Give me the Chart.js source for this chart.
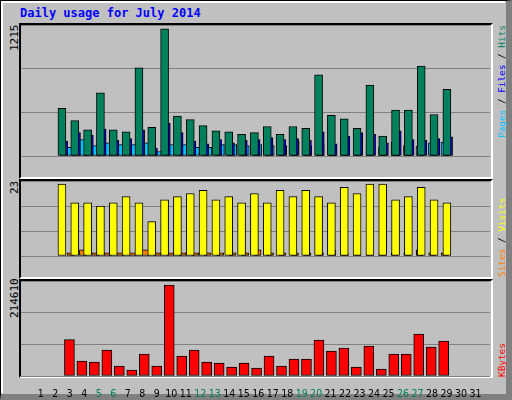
<!DOCTYPE html>
<html><head><meta charset="utf-8">
<script src="https://cdn.jsdelivr.net/npm/chart.js@4"></script>
<style>
body{margin:0;width:512px;height:400px;background:#c0c0c0;position:relative;overflow:hidden;font-family:"DejaVu Sans Mono",monospace}
#frame{position:absolute;left:0;top:0;width:505px;height:393px;border:1px solid #000;border-right:6px solid #808080;border-bottom:6px solid #808080;box-sizing:content-box}
#inner{position:absolute;left:1px;top:1px;width:504px;height:392px;border-left:2px solid #fff;border-top:2px solid #fff;box-sizing:border-box}
.panel{position:absolute;border-top:2px solid #000;border-left:2px solid #000;border-right:2px solid #fff;border-bottom:2px solid #fff;box-sizing:border-box}
canvas{position:absolute}
.rot{position:absolute;transform:rotate(-90deg);transform-origin:left top;white-space:nowrap;font-size:9.4px;line-height:11px}
#title{position:absolute;left:20px;top:6px;color:#0000ff;font-weight:bold;font-size:12px}
</style></head><body>
<div id="frame"></div><div id="inner"></div>
<div id="title">Daily usage for July 2014</div>
<div class="panel" style="left:19px;top:23px;width:474px;height:156px"></div>
<div class="panel" style="left:19px;top:179px;width:474px;height:100px"></div>
<div class="panel" style="left:19px;top:279px;width:474px;height:99px"></div>
<div class="rot" style="left:9px;top:51px;font-size:11px">1215</div>
<div class="rot" style="left:9px;top:194px;font-size:11px">23</div>
<div class="rot" style="left:9px;top:318px;font-size:11px">214610</div>
<div class="rot" style="left:496px;top:138px"><span style="color:#00c0ff">Pages</span> / <span style="color:#0000ff">Files</span> / <span style="color:#00805c">Hits</span></div>
<div class="rot" style="left:496px;top:277px"><span style="color:#ff8000">Sites</span> / <span style="color:#ffff00">Visits</span></div>
<div class="rot" style="left:496px;top:377px"><span style="color:#ff0000">KBytes</span></div>
<canvas id="c1" style="left:21px;top:25px;width:469px;height:152px"></canvas>
<canvas id="c2" style="left:21px;top:181px;width:469px;height:96px"></canvas>
<canvas id="c3" style="left:21px;top:281px;width:469px;height:116px"></canvas>
<script>
const days = Array.from({length:31},(_,i)=>i+1);
const weekends = [5,6,12,13,19,20,26,27];
const hits  = [455,339,249,603,249,232,842,274,1215,381,348,290,241,232,208,224,282,208,282,265,776,389,356,265,677,191,438,438,859,397,636];
const files = [142,224,199,257,150,166,249,76,315,224,142,117,158,125,150,158,175,158,166,150,232,117,191,224,208,125,241,158,150,166,183];
const pages = [84,158,100,125,109,109,125,43,109,109,84,84,109,109,100,109,100,100,142,100,109,100,100,100,92,84,133,100,92,125,133];
const visits= [23,17,17,16,17,19,17,11,18,19,20,21,18,19,17,20,17,21,19,21,19,17,22,20,23,23,18,19,22,18,17];
const sites = [1,2,1,1,1,1,2,1,1,1,1,1,1,1,1,2,1,1,1,1,1,2,1,1,2,1,1,1,2,1,1];
const kbytes= [85760,35375,33017,61317,23584,14150,51884,23584,214610,47167,61317,33017,30659,21225,30659,18867,47167,23584,40092,40092,84901,58959,66034,21225,70751,16509,51884,51884,99051,68393,82543];
const XMIN=0.42, XMAX=31.75;
const pts=(arr)=>arr.map((v,i)=>({x:days[i],y:v}));
const ds=(arr,axis,color,w)=>({data:pts(arr),xAxisID:axis,backgroundColor:color,borderColor:'#000',borderWidth:1,barThickness:w,grouped:false,borderSkipped:false});
const hx=(off)=>({type:'linear',min:XMIN-off,max:XMAX-off,display:false});
const yAxis=(max)=>({min:0,max:max,display:true,border:{display:false},ticks:{display:false,stepSize:max/3},grid:{color:'#808080',drawTicks:false,lineWidth:1},afterFit:s=>{s.width=0}});
const base=(datasets,ymax,offs,showX)=>{
  const scales={x:{type:'linear',min:XMIN-0.27,max:XMAX-0.27,display:showX,grid:{display:false},border:{display:false},
    afterBuildTicks:s=>{s.ticks=days.map(d=>({value:d}));},
    ticks:{autoSkip:false,maxRotation:0,padding:4,callback:v=>String(v),
      color:c=>weekends.includes(c.tick.value)?'#00805c':'#000',
      font:{family:'DejaVu Sans Condensed',size:10.5}},
    afterFit:s=>{s.height=21}},y:yAxis(ymax)};
  offs.forEach((o,i)=>{scales['x'+i]=hx(o);});
  return {type:'bar',data:{datasets},options:{responsive:false,animation:false,maintainAspectRatio:false,
    layout:{padding:0},plugins:{legend:{display:false},tooltip:{enabled:false}},scales}};
};
function mk(id,w,h,cfg){const c=document.getElementById(id);c.width=w;c.height=h;new Chart(c,cfg);}
mk('c1',469,152,base([ds(hits,'x0','#00805c',8),ds(files,'x1','#0000ff',8),ds(pages,'x2','#00c0ff',8)],1252,[0,0.133,0.267],false));
mk('c2',469,96,base([ds(visits,'x0','#ffff00',8),ds(sites,'x1','#ff8000',7)],24,[0,0.25],false));
mk('c3',469,116,base([ds(kbytes,'x0','#ff0000',10)],224000,[0.17],true));
</script></body></html>
